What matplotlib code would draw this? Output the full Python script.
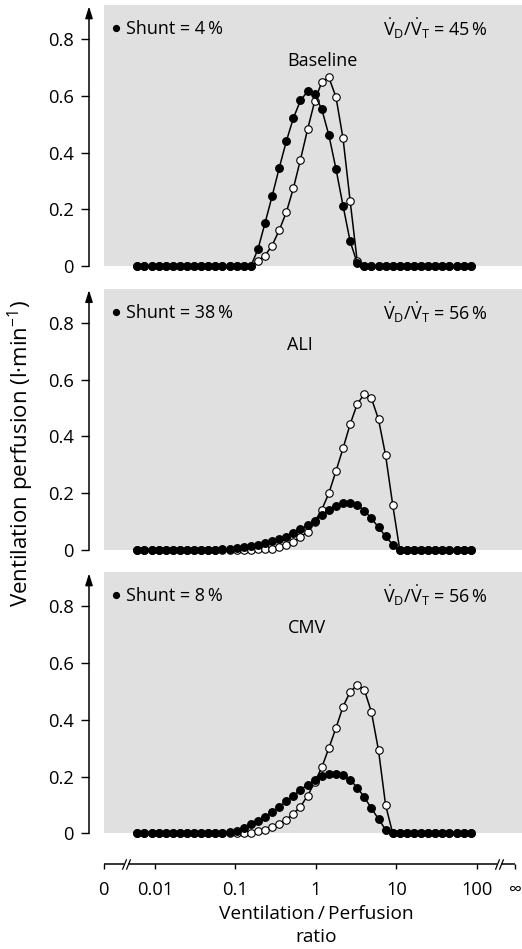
import matplotlib
matplotlib.use("Agg")
from matplotlib import pyplot as plt

plt.rcParams['font.family'] = ['Open Sans', 'DejaVu Sans']
plt.rcParams['mathtext.fontset'] = 'custom'
plt.rcParams['mathtext.rm'] = 'Open Sans'
plt.rcParams['mathtext.it'] = 'Open Sans:italic'
plt.rcParams['mathtext.bf'] = 'Open Sans:bold'

# VA/Q compartments (log spaced between shunt and dead space)
va_q_ratio = [0.006026, 0.007383, 0.009046, 0.01108, 0.01358, 0.01663, 0.02038, 0.02496,
              0.03058, 0.03747, 0.04590, 0.05624, 0.06890, 0.08441, 0.1034, 0.1267,
              0.1552, 0.1902, 0.2330, 0.2854, 0.3497, 0.4285, 0.5250, 0.6432,
              0.7880, 0.9656, 1.183, 1.449, 1.776, 2.175, 2.665, 3.265,
              4.000, 4.901, 6.004, 7.357, 9.014, 11.04, 13.53, 16.58,
              20.31, 24.88, 30.48, 37.35, 45.76, 56.06, 68.69, 84.14]

# blood flow (filled) and ventilation (open), l/min
baseline_perfusion = [0, 0, 0, 0, 0, 0, 0, 0, 0, 0, 0, 0, 0, 0, 0, 0,
                      0, 0.060, 0.152, 0.247, 0.346, 0.440, 0.522, 0.584,
                      0.616, 0.605, 0.553, 0.462, 0.343, 0.213, 0.088, 0.011,
                      0, 0, 0, 0, 0, 0, 0, 0, 0, 0, 0, 0, 0, 0, 0, 0]
baseline_ventilation = [0, 0, 0, 0, 0, 0, 0, 0, 0, 0, 0, 0, 0, 0, 0, 0,
                        0, 0.019, 0.038, 0.073, 0.127, 0.190, 0.275, 0.376,
                        0.482, 0.581, 0.649, 0.665, 0.596, 0.450, 0.230, 0.017,
                        0, 0, 0, 0, 0, 0, 0, 0, 0, 0, 0, 0, 0, 0, 0, 0]

ali_perfusion = [0, 0, 0, 0, 0, 0, 0, 0, 0, 0, 0, 0, 0.002, 0.005, 0.007, 0.010,
                 0.014, 0.019, 0.025, 0.031, 0.038, 0.047, 0.059, 0.073,
                 0.087, 0.102, 0.123, 0.141, 0.156, 0.167, 0.167, 0.159,
                 0.139, 0.111, 0.080, 0.048, 0.019, 0, 0, 0, 0, 0, 0, 0, 0, 0, 0, 0]
ali_ventilation = [0, 0, 0, 0, 0, 0, 0, 0, 0, 0, 0, 0, 0, 0, 0, 0.001,
                   0.001, 0.002, 0.003, 0.005, 0.011, 0.019, 0.029, 0.046,
                   0.064, 0.100, 0.142, 0.200, 0.278, 0.358, 0.443, 0.514,
                   0.549, 0.534, 0.460, 0.333, 0.159, 0, 0, 0, 0, 0, 0, 0, 0, 0, 0, 0]

cmv_perfusion = [0, 0, 0, 0, 0, 0, 0, 0, 0, 0, 0, 0, 0.002, 0.004, 0.008, 0.018,
                 0.033, 0.045, 0.059, 0.075, 0.093, 0.112, 0.132, 0.154,
                 0.170, 0.188, 0.201, 0.208, 0.209, 0.204, 0.188, 0.161,
                 0.127, 0.088, 0.050, 0.013, 0.002, 0, 0, 0, 0, 0, 0, 0, 0, 0, 0, 0]
cmv_ventilation = [0, 0, 0, 0, 0, 0, 0, 0, 0, 0, 0, 0, 0, 0, 0, 0.001,
                   0.002, 0.007, 0.013, 0.021, 0.033, 0.048, 0.069, 0.094,
                   0.132, 0.180, 0.232, 0.300, 0.371, 0.446, 0.498, 0.522,
                   0.505, 0.427, 0.292, 0.099, 0, 0, 0, 0, 0, 0, 0, 0, 0, 0, 0, 0]

panel_names = ['Baseline', 'ALI', 'CMV']
shunt_pct = [4, 38, 8]
dead_space_pct = [45, 56, 56]
perfusion_series = [baseline_perfusion, ali_perfusion, cmv_perfusion]
ventilation_series = [baseline_ventilation, ali_ventilation, cmv_ventilation]

y_ticks = [0, 0.2, 0.4, 0.6, 0.8]
y_tick_labels = ['0', '0.2', '0.4', '0.6', '0.8']
x_ticks = [0.0023, 0.01, 0.1, 1, 10, 100, 300]
x_tick_labels = ['0', '0.01', '0.1', '1', '10', '100', '\u221e']

W, H = 522, 949
X_MIN, X_MAX = 0.00151, 365
X_ZERO, X_INF = 0.0023, 300
Y_TOP = 0.92
PX_PER_UNIT = 284
FS_TICK = 13.2
FS_TEXT = 13
FS_XLABEL = 13.8
FS_YLABEL = 16
GRAY = '#e0e0e0'
VDVT = r'$\dot{\mathrm{V}}_\mathrm{D}/\dot{\mathrm{V}}_\mathrm{T}$'


def draw_panel(fig, bottom_px, name, shunt, dead_space, perfusion, ventilation):
    """
    Draws one VA/Q distribution panel with its own y axis and gray plotting area.
    :param bottom_px: pixel row (from the top) of the zero line
    """
    ax = fig.add_axes([89 / W, 1 - bottom_px / H, (W - 89) / W, Y_TOP * PX_PER_UNIT / H])
    ax.set_xscale('log')
    ax.set_xlim(X_MIN, X_MAX)
    ax.set_ylim(0, Y_TOP)
    ax.axvspan(X_ZERO, X_MAX, color=GRAY, lw=0, zorder=0)
    for side in ['top', 'right', 'bottom', 'left']:
        ax.spines[side].set_visible(False)
    ax.tick_params(axis='x', which='both', bottom=False, labelbottom=False)
    ax.set_yticks(y_ticks)
    ax.set_yticklabels(y_tick_labels)
    ax.tick_params(axis='y', direction='out', length=5.8, width=1, pad=5, labelsize=FS_TICK)

    # y axis drawn as an arrow
    ax.annotate('', xy=(0, 0.995), xytext=(0, 0), xycoords='axes fraction',
                arrowprops=dict(arrowstyle='-|>,head_length=0.7,head_width=0.22', color='k',
                                lw=1.1, shrinkA=0, shrinkB=0),
                annotation_clip=False)

    ax.plot(va_q_ratio, ventilation, '-o', color='k', lw=1.1, ms=5.4, mfc='white', mec='k',
            mew=0.8, clip_on=False, zorder=3)
    ax.plot(va_q_ratio, perfusion, '-o', color='k', lw=1.1, ms=5.4, mfc='k', mec='k',
            clip_on=False, zorder=4)

    trans = ax.get_yaxis_transform()
    # filled dot as key for the shunt value
    ax.plot([0.0625], [0.839], 'o', color='k', ms=4.2, transform=trans, clip_on=False)
    ax.text(0.086, 0.835, 'Shunt = %d\u2009%%' % shunt, transform=trans,
            ha='left', va='center', fontsize=FS_TEXT)
    ax.text(0.921, 0.835, VDVT + ' = %d\u2009%%' % dead_space,
            transform=trans, ha='right', va='center', fontsize=FS_TEXT)
    ax.text(0.4584, 0.723, name, transform=trans, ha='left', va='center', fontsize=FS_TEXT)
    return ax


def draw_ratio_axis(fig):
    """
    Draws the shared log VA/Q axis with breaks before 0.01 and after 100.
    """
    axx = fig.add_axes([89 / W, 1 - 864 / H, (W - 89) / W, 0.01])
    axx.set_xscale('log')
    axx.set_xlim(X_MIN, X_MAX)
    axx.set_ylim(0, 1)
    axx.patch.set_visible(False)
    for side in ['top', 'right', 'bottom', 'left']:
        axx.spines[side].set_visible(False)
    axx.set_yticks([])
    axx.set_xticks(x_ticks)
    axx.set_xticklabels(x_tick_labels)
    axx.xaxis.set_minor_locator(plt.NullLocator())
    axx.tick_params(axis='x', direction='out', length=3.6, width=1, pad=8.5, labelsize=FS_TICK)

    trans = axx.get_xaxis_transform()
    gap = 1.06
    breaks = [0.0044, 189]
    segments = [(X_ZERO, breaks[0] / gap), (breaks[0] * gap, breaks[1] / gap), (breaks[1] * gap, X_INF)]
    for x0, x1 in segments:
        axx.plot([x0, x1], [0, 0], color='k', lw=1.1, transform=trans, clip_on=False,
                 solid_capstyle='butt')
    for b in breaks:
        axx.plot([b / gap, b * gap], [0, 0], ls='none', marker=[(-0.4, -1), (0.4, 1)], ms=7.5,
                 mec='k', mew=0.9, transform=trans, clip_on=False)
    return axx


fig = plt.figure(figsize=(W / 100, H / 100), dpi=100)

panel_bottoms = [266.3, 550, 833.3]
for i in range(3):
    draw_panel(fig, panel_bottoms[i], panel_names[i], shunt_pct[i], dead_space_pct[i],
               perfusion_series[i], ventilation_series[i])

draw_ratio_axis(fig)

fig.text(21 / W, 1 - 454 / H, 'Ventilation perfusion (l\u00b7min$^{-1}$)', rotation=90,
         ha='center', va='center', fontsize=FS_YLABEL)
fig.text(316 / W, 1 - 925.5 / H, 'Ventilation\u2009/\u2009Perfusion\nratio', ha='center',
         va='center', fontsize=FS_XLABEL, linespacing=1.35, multialignment='center')

fig.savefig('out.png', dpi=100)
